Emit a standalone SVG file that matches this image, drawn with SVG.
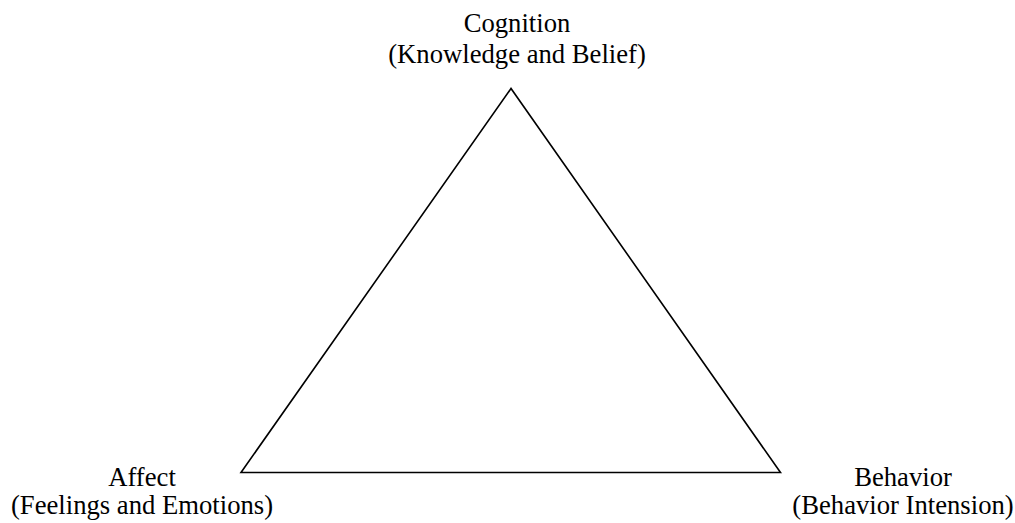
<svg xmlns="http://www.w3.org/2000/svg" width="1015" height="523" viewBox="0 0 1015 523">
<style>
.lbl{font-family:"Liberation Serif","Times New Roman",serif;font-size:26.67px;fill:#000;text-anchor:middle}
.edge{fill:none;stroke:#000;stroke-width:1.6;stroke-linejoin:miter}
</style>
<rect width="1015" height="523" fill="#fff"/>
<g id="connectors">
<polygon class="edge" points="511,88.5 241,472.5 780.5,472.5"/>
</g>
<g id="cognition">
<text class="lbl" x="517" y="32">Cognition</text>
<text class="lbl" x="517" y="63">(Knowledge and Belief)</text>
</g>
<g id="affect">
<text class="lbl" x="142" y="486">Affect</text>
<text class="lbl" x="142" y="514">(Feelings and Emotions)</text>
</g>
<g id="behavior">
<text class="lbl" x="903" y="486">Behavior</text>
<text class="lbl" x="903" y="514">(Behavior Intension)</text>
</g>
</svg>
